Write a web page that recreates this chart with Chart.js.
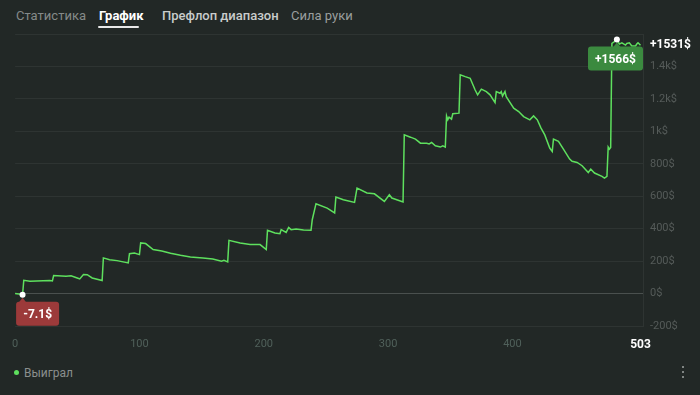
<!DOCTYPE html>
<html>
<head>
<meta charset="utf-8">
<script src="https://cdn.jsdelivr.net/npm/chart.js"></script>
<style>
  html, body { margin: 0; padding: 0; background: #222826; }
  body { width: 700px; height: 395px; position: relative; overflow: hidden; font-family: Roboto, "Noto Sans", sans-serif; }
  .tab { position: absolute; top: 8px; font-size: 13px; white-space: nowrap; }
  .tab.active { color: #ffffff; font-weight: bold; }
  .underline { position: absolute; left: 98px; top: 26px; width: 41px; height: 2px; background: #e8e8e8; border-radius: 1px; }
  #chart { position: absolute; left: 0; top: 0; }
  .legend { position: absolute; left: 14px; top: 366px; font-size: 12px; color: #8a8f8e; }
  .legend i { display: inline-block; width: 5px; height: 5px; border-radius: 50%; background: #5ee05e; margin-right: 5px; vertical-align: 2px; }
  .menu { position: absolute; left: 682px; top: 366px; width: 3px; }
  .menu b { display: block; width: 2px; height: 2px; border-radius: 1px; background: #a0a4a3; margin-bottom: 3px; }
</style>
</head>
<body>
<div class="tab" style="left:16px;color:#858a89">Статистика</div>
<div class="tab active" style="left:99px">График</div>
<div class="tab" style="left:162px;color:#c9cccb;font-weight:500">Префлоп диапазон</div>
<div class="tab" style="left:291px;color:#9a9f9e">Сила руки</div>
<div class="underline"></div>
<canvas id="chart" width="700" height="360"></canvas>
<div class="legend"><i></i>Выиграл</div>
<div class="menu"><b></b><b></b><b></b></div>
<script>
// hand number and cumulative winnings ($)
const hands = [0, 3, 6, 7, 12, 28, 30, 31, 41, 45, 50, 52, 55, 58, 62, 70,
  71, 76, 82, 91, 92, 96, 100, 101, 105, 111, 118, 125, 133, 141, 151, 159, 166, 168, 171,
  172, 181, 189, 197, 202, 203, 209, 213, 214, 218, 220, 222, 226, 232, 238, 239, 242, 251, 257,
  258, 264, 273, 275, 283, 289, 297, 301, 303, 312,
  313, 318, 320, 322, 326, 331, 333, 335, 338, 342, 344, 346,
  347, 348, 349, 351, 352, 357,
  358, 362, 366, 370, 372, 375, 379, 382, 386, 387, 390, 391, 392, 394, 395, 401, 405, 409,
  414, 417, 420, 423, 426, 430, 432, 433, 437, 441, 446, 448, 452, 456, 461, 463, 466, 472,
  474, 476, 477, 478, 479,
  480, 482, 484, 486, 488, 491, 492, 494, 496, 499, 500, 501, 503];
const profit = [0, -2, -7.1, 82, 76, 80, 78, 111, 107, 110, 96, 90, 117, 116, 96, 80,
  220, 209, 203, 189, 246, 250, 240, 312, 308, 271, 262, 248, 236, 226, 219, 213, 199, 205, 195,
  328, 312, 302, 302, 271, 390, 373, 369, 394, 377, 408, 394, 398, 392, 390, 455, 554, 527, 497,
  595, 578, 562, 650, 620, 615, 568, 609, 589, 564,
  978, 964, 958, 952, 927, 927, 922, 931, 911, 903, 911, 903,
  1095, 1071, 1087, 1075, 1108, 1112,
  1348, 1337, 1327, 1255, 1225, 1260, 1245, 1225, 1177, 1245, 1235, 1245, 1218, 1245, 1214, 1143, 1122, 1091,
  1071, 1095, 1071, 1020, 978, 897, 876, 952, 938, 890, 829, 815, 808, 788, 746, 767, 743, 722,
  712, 722, 903, 890, 900,
  1542, 1553, 1566, 1538, 1546, 1532, 1542, 1546, 1526, 1526, 1538, 1546, 1531];
const yTicks = [-200, 0, 200, 400, 600, 800, 1000, 1200, 1400, 1600];
const xTicks = [0, 100, 200, 300, 400, 503];

const lastValue = profit[profit.length - 1];
const maxValue = Math.max(...profit);
const minValue = Math.min(...profit);
const maxHand = hands[profit.indexOf(maxValue)];
const minHand = hands[profit.indexOf(minValue)];

const GREEN = '#5ee05e';
const GRID = '#2e3432';

function money(v) {
  if (v >= 1000) return (v / 1000).toString() + 'k$';
  return v + '$';
}

function badge(ctx, area, dotX, dotY, text, color) {
  ctx.save();
  ctx.font = 'bold 12px Roboto, sans-serif';
  const w = Math.round(ctx.measureText(text).width) + 14;
  const h = 24;
  let left = dotX - w / 2;
  if (left < area.left + 1) left = area.left + 1;
  if (left + w > area.right) left = area.right - w;
  const top = dotY + 7;
  ctx.fillStyle = color;
  ctx.beginPath();
  ctx.moveTo(dotX - 4, top + 1);
  ctx.lineTo(dotX, top - 4);
  ctx.lineTo(dotX + 4, top + 1);
  ctx.fill();
  ctx.beginPath();
  ctx.roundRect(left, top, w, h, 3);
  ctx.fill();
  ctx.fillStyle = '#ffffff';
  ctx.textAlign = 'center';
  ctx.textBaseline = 'middle';
  ctx.fillText(text, left + w / 2, top + h / 2 + 1);
  ctx.restore();
}

const markers = {
  id: 'markers',
  afterDatasetsDraw(chart) {
    const { ctx, chartArea, scales: { x, y } } = chart;
    const mx = x.getPixelForValue(maxHand), my = y.getPixelForValue(maxValue);
    const nx = x.getPixelForValue(minHand), ny = y.getPixelForValue(minValue);
    badge(ctx, chartArea, mx, my, '+' + maxValue + '$', '#3b8a3f');
    badge(ctx, chartArea, nx, ny, minValue + '$', '#9c3a3a');
    ctx.save();
    ctx.fillStyle = '#ffffff';
    [[mx, my], [nx, ny]].forEach(([px, py]) => {
      ctx.beginPath();
      ctx.arc(px, py, 3, 0, Math.PI * 2);
      ctx.fill();
    });
    ctx.restore();
  }
};

new Chart(document.getElementById('chart'), {
  type: 'line',
  data: {
    datasets: [{
      label: 'Выиграл',
      data: hands.map((h, i) => ({ x: h, y: profit[i] })),
      borderColor: GREEN,
      borderWidth: 1.5,
      pointRadius: 0,
      tension: 0,
      fill: false
    }]
  },
  options: {
    responsive: false,
    animation: false,
    devicePixelRatio: 1,
    layout: { padding: { left: 15, top: 34, right: 0, bottom: 0 } },
    plugins: { legend: { display: false }, tooltip: { enabled: false } },
    scales: {
      x: {
        type: 'linear',
        min: 0,
        max: 505,
        afterBuildTicks: (s) => { s.ticks = xTicks.map(v => ({ value: v })) },
        afterFit: (s) => { s.height = 34 },
        grid: { display: false, drawTicks: false },
        border: { display: false },
        ticks: {
          padding: 12,
          autoSkip: false,
          maxRotation: 0,
          color: (c) => c.tick && c.tick.value === 503 ? '#ffffff' : '#50605a',
          font: (c) => c.tick && c.tick.value === 503
            ? { family: 'Roboto', size: 12, weight: 'bold' }
            : { family: 'Roboto', size: 11 },
          callback: (v) => String(v)
        }
      },
      y: {
        position: 'right',
        min: -200,
        max: 1600,
        afterBuildTicks: (s) => {
          s.ticks = yTicks.concat([lastValue]).sort((a, b) => a - b).map(v => ({ value: v }))
        },
        afterFit: (s) => { s.width = 57 },
        grid: {
          drawTicks: false,
          color: (c) => {
            if (!c.tick) return GRID;
            if (c.tick.value === 0) return '#4a504e';
            if (c.tick.value === lastValue) return 'rgba(0,0,0,0)';
            return GRID;
          }
        },
        border: { display: true, color: GRID },
        ticks: {
          padding: 7,
          autoSkip: false,
          color: (c) => c.tick && c.tick.value === lastValue ? '#ffffff' : '#555b59',
          font: (c) => c.tick && c.tick.value === lastValue
            ? { family: 'Roboto', size: 12, weight: 'bold' }
            : { family: 'Roboto', size: 11 },
          callback: (v) => {
            if (v === 1600) return '';
            if (v === lastValue) return '+' + v + '$';
            return money(v);
          }
        }
      }
    }
  },
  plugins: [markers]
});
</script>
</body>
</html>
